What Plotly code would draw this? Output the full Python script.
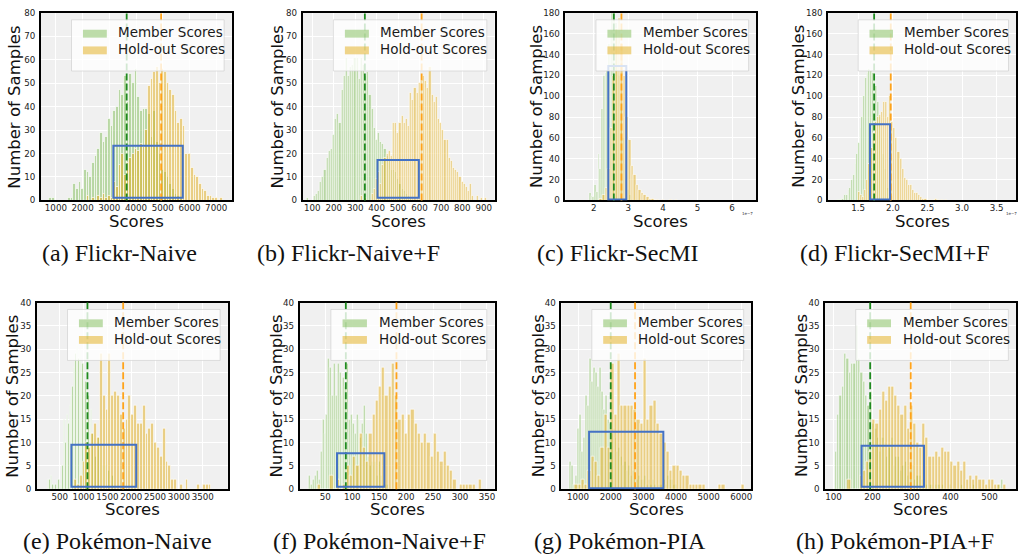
import plotly.graph_objects as go

FIG_W, FIG_H = 1018, 559

# ---------------- text ----------------
captions = ["(a) Flickr-Naive", "(b) Flickr-Naive+F", "(c) Flickr-SecMI", "(d) Flickr-SecMI+F",
            "(e) Pokémon-Naive", "(f) Pokémon-Naive+F", "(g) Pokémon-PIA", "(h) Pokémon-PIA+F"]
legend_labels = ["Member Scores", "Hold-out Scores"]
x_title = "Scores"
y_title = "Number of Samples"

# ---------------- data ----------------
# each histogram: (left edge of first bin, bin width) and the counts per bin
# (a) Flickr-Naive
a_member_bins = (750, 100)
a_member = [1, 1, 0, 0, 0, 0, 0, 1, 1, 7, 5, 8, 5, 13, 12, 10, 16, 19, 22, 29, 25, 27, 35, 32, 38, 40,
            47, 45, 53, 42, 54, 50, 56, 44, 38, 39, 39, 37, 27, 38, 25, 20, 13, 12, 10, 7, 5, 3, 2, 1]
a_holdout_bins = (1950, 100)
a_holdout = [0, 0, 2, 0, 1, 0, 2, 1, 3, 1, 2, 1, 8, 6, 15, 20, 11, 16, 18, 20, 22, 21, 24, 23, 30, 49,
             52, 55, 57, 50, 56, 55, 50, 47, 45, 38, 33, 35, 32, 20, 20, 14, 11, 10, 7, 5, 4, 2, 2, 1, 1, 0, 1]
a_means = (3650, 4940)
a_overlap = (3150, 5750, 1.2, 23.3)

# (b) Flickr-Naive+F
b_member_bins = (75, 10)
b_member = [1, 0, 0, 2, 3, 4, 8, 10, 13, 18, 21, 22, 28, 35, 37, 33, 47, 53, 61, 53, 57, 58, 61, 61, 52,
            61, 58, 53, 55, 45, 39, 31, 26, 29, 25, 24, 22, 19, 17, 13, 13, 12, 9, 7, 5, 4, 3, 2, 1]
b_holdout_bins = (325, 10)
b_holdout = [2, 0, 1, 0, 0, 3, 5, 9, 12, 7, 15, 18, 20, 21, 19, 33, 33, 29, 33, 36, 33, 35, 32, 46, 43,
             48, 46, 50, 51, 53, 51, 48, 57, 45, 42, 44, 35, 33, 30, 26, 26, 18, 17, 14, 13, 12, 10, 8, 7,
             6, 4, 7, 2, 0, 2, 0, 1, 0, 1]
b_means = (345, 610)
b_overlap = (404, 597, 1.1, 17.3)

# (c) Flickr-SecMI  (scores in units of 1e-7)
c_member_bins = (1.875, 0.05)
c_member = [7, 4, 3, 15, 8, 45, 30, 88, 120, 122, 125, 150, 165, 180, 180, 170, 150, 120, 90, 60, 35,
            20, 10, 5, 2, 1]
c_holdout_bins = (2.175, 0.075)
c_holdout = [2, 5, 12, 30, 70, 120, 165, 175, 150, 120, 80, 58, 33, 25, 15, 10, 7, 5, 3, 2, 2, 1, 1, 0,
             1, 0, 0, 1, 0, 1]
c_means = (2.58, 2.80)
c_overlap = (2.42, 2.94, 0.8, 129)

# (d) Flickr-SecMI+F  (scores in units of 1e-7)
d_member_bins = (1.2, 0.025)
d_member = [1, 1, 2, 2, 5, 5, 10, 12, 20, 25, 35, 45, 55, 70, 80, 100, 118, 122, 126, 124, 122, 118, 110,
            95, 80, 60, 45, 30, 20, 12, 8, 4, 2, 1, 1]
d_holdout_bins = (1.5, 0.03)
d_holdout = [8, 5, 3, 10, 20, 35, 50, 65, 75, 80, 82, 85, 95, 95, 80, 100, 75, 70, 60, 47, 40, 30, 22,
             20, 15, 15, 10, 7, 7, 5, 3, 2, 2, 0, 1, 0, 1, 2, 1, 0, 1, 0, 1]
d_means = (1.73, 1.97)
d_overlap = (1.67, 1.96, 1.0, 73)

# (e) Pokémon-Naive
e_member_bins = (255, 30)
e_member = [2, 2, 3, 1, 0, 1, 0, 2, 1, 1, 5, 15, 10, 16, 14, 18, 20, 22, 26, 29, 31, 28, 30, 24, 27, 21,
            23, 30, 20, 14, 17, 12, 11, 7, 10, 11, 7, 9, 5, 5, 5, 6, 4, 2, 3, 3, 2, 0, 1, 0, 0, 1, 0, 0,
            1, 0, 0, 0, 1]
e_holdout_bins = (800, 60)
e_holdout = [2, 1, 3, 6, 10, 9, 12, 14, 11, 29, 20, 17, 29, 20, 21, 20, 16, 13, 15, 20, 16, 18, 14, 14,
             18, 12, 13, 14, 10, 9, 7, 13, 6, 5, 2, 2, 0, 1, 0, 2, 0, 0, 0, 1, 0, 1, 1, 1]
e_means = (1082, 1831)
e_overlap = (745, 2105, 0.5, 9.5)

# (f) Pokémon-Naive+F
f_member_bins = (20, 3.5)
f_member = [3, 1, 2, 3, 4, 2, 8, 15, 12, 16, 28, 26, 20, 27, 20, 27, 25, 20, 24, 22, 27, 15, 16, 14, 12,
            16, 15, 11, 14, 18, 12, 7, 5, 6, 5, 6, 3, 6, 3, 1, 1, 1]
f_holdout_bins = (35, 6)
f_holdout = [1, 0, 0, 0, 3, 0, 2, 0, 1, 5, 3, 7, 5, 12, 9, 6, 12, 16, 19, 22, 26, 20, 22, 27, 20, 15, 16,
             12, 16, 17, 14, 12, 10, 12, 10, 7, 12, 8, 6, 8, 5, 4, 2, 0, 1, 1, 1, 1, 1, 0, 2]
f_means = (88, 182)
f_overlap = (71.6, 159.5, 0.5, 7.7)

# (g) Pokémon-PIA
g_member_bins = (750, 60)
g_member = [6, 5, 1, 3, 13, 16, 8, 11, 20, 18, 28, 23, 26, 25, 22, 26, 21, 17, 20, 15, 14, 12, 13, 11, 8,
            9, 7, 5, 6, 4, 5, 3, 4, 3, 2, 3, 2, 2, 3, 1, 2, 1, 2, 1, 0, 1, 1, 0, 2, 1, 3, 2, 2, 1, 1]
g_holdout_bins = (900, 100)
g_holdout = [1, 1, 2, 1, 4, 7, 6, 3, 9, 16, 9, 27, 16, 29, 18, 18, 18, 18, 17, 15, 14, 28, 15, 18, 19,
             14, 12, 10, 8, 4, 5, 5, 4, 3, 3, 1, 1, 1, 1, 1, 0, 0, 0, 0, 1, 1, 0, 0, 0, 0, 0, 1]
g_means = (2000, 2745)
g_overlap = (1337, 3612, 0.2, 12.3)

# (h) Pokémon-PIA+F
h_member_bins = (103, 6)
h_member = [8, 16, 20, 22, 29, 28, 25, 27, 27, 35, 28, 25, 23, 20, 18, 21, 14, 13, 11, 8, 11, 10, 7, 9,
            11, 5, 7, 7, 4, 5, 6, 3, 4, 5, 2, 3, 3, 2, 1, 1, 0, 1, 0, 1, 1, 0, 1, 0, 0, 1, 0, 0, 0, 0,
            1, 0, 0, 0, 0, 1, 0, 0, 0, 0, 0, 0, 0, 0, 0, 0, 1, 2]
h_holdout_bins = (136, 8)
h_holdout = [2, 0, 0, 0, 3, 4, 6, 8, 15, 14, 17, 21, 19, 22, 22, 20, 18, 16, 18, 13, 18, 14, 10, 9, 14,
             11, 7, 7, 8, 7, 9, 8, 8, 6, 5, 6, 4, 6, 2, 3, 2, 3, 2, 2, 1, 2, 2, 1, 1, 0, 1]
h_means = (194, 298)
h_overlap = (172, 332, 0.5, 9.3)

# tick values per panel
a_ticks = [1000, 2000, 3000, 4000, 5000, 6000, 7000]
b_ticks = [100, 200, 300, 400, 500, 600, 700, 800, 900]
c_ticks = [2, 3, 4, 5, 6]
d_ticks = [1.5, 2.0, 2.5, 3.0, 3.5]
e_ticks = [500, 1000, 1500, 2000, 2500, 3000, 3500]
f_ticks = [50, 100, 150, 200, 250, 300, 350]
g_ticks = [1000, 2000, 3000, 4000, 5000, 6000]
h_ticks = [100, 200, 300, 400, 500]
flickr_yticks = [0, 10, 20, 30, 40, 50, 60, 70, 80]
secmi_yticks = [0, 20, 40, 60, 80, 100, 120, 140, 160, 180]
pokemon_yticks = [0, 5, 10, 15, 20, 25, 30, 35, 40]

# ---------------- layout geometry (pixels) ----------------
panels = [
    dict(mem=a_member, memb=a_member_bins, hol=a_holdout, holb=a_holdout_bins, means=a_means, box=a_overlap,
         xt=a_ticks, yt=flickr_yticks, xr=[441, 7584], yr=[0, 80], fmt="", px=(41, 232, 8, 199), ytx=15),
    dict(mem=b_member, memb=b_member_bins, hol=b_holdout, holb=b_holdout_bins, means=b_means, box=b_overlap,
         xt=b_ticks, yt=flickr_yticks, xr=[55, 950], yr=[0, 80], fmt="", px=(303, 495, 8, 199), ytx=278),
    dict(mem=c_member, memb=c_member_bins, hol=c_holdout, holb=c_holdout_bins, means=c_means, box=c_overlap,
         xt=c_ticks, yt=secmi_yticks, xr=[1.18, 6.70], yr=[0, 180], fmt="", px=(566, 757, 8, 199), ytx=537),
    dict(mem=d_member, memb=d_member_bins, hol=d_holdout, holb=d_holdout_bins, means=d_means, box=d_overlap,
         xt=d_ticks, yt=secmi_yticks, xr=[1.066, 3.78], yr=[0, 180], fmt=".1f", px=(829, 1017, 8, 199), ytx=799),
    dict(mem=e_member, memb=e_member_bins, hol=e_holdout, holb=e_holdout_bins, means=e_means, box=e_overlap,
         xt=e_ticks, yt=pokemon_yticks, xr=[23, 4025], yr=[0, 40], fmt="", px=(37, 228, 303, 493), ytx=13),
    dict(mem=f_member, memb=f_member_bins, hol=f_holdout, holb=f_holdout_bins, means=f_means, box=f_overlap,
         xt=f_ticks, yt=pokemon_yticks, xr=[2.4, 364], yr=[0, 40], fmt="", px=(300, 495, 303, 493), ytx=277),
    dict(mem=g_member, memb=g_member_bins, hol=g_holdout, holb=g_holdout_bins, means=g_means, box=g_overlap,
         xt=g_ticks, yt=pokemon_yticks, xr=[490, 6306], yr=[0, 40], fmt="", px=(562, 752, 303, 493), ytx=539),
    dict(mem=h_member, memb=h_member_bins, hol=h_holdout, holb=h_holdout_bins, means=h_means, box=h_overlap,
         xt=h_ticks, yt=pokemon_yticks, xr=[78.6, 568], yr=[0, 40], fmt="", px=(826, 1017, 303, 493), ytx=803),
]
caption_pos = [(120, 253), (349, 253), (618, 253), (896, 253),
               (118, 546), (380, 546), (621, 546), (896, 546)]

MEMBER_FILL = "rgba(125,188,85,0.5)"
HOLDOUT_FILL = "rgba(226,172,22,0.5)"
EDGE = "rgba(255,255,255,0.8)"
MEAN_COLORS = ("#1f8a1f", "#ffa31a")
BOX_COLOR = "#4472c4"
TICK_FONT = dict(family="DejaVu Sans", size=8.7, color="#222222")
TITLE_FONT = dict(family="DejaVu Sans", size=16.5, color="#111111")
LEG_FONT = dict(family="DejaVu Sans", size=13.5, color="#1a1a1a")
CAP_FONT = dict(family="Liberation Serif", size=24, color="#111111")


def centers(bins, counts):
    start, width = bins
    return [start + width * (i + 0.5) for i in range(len(counts))], width


fig = go.Figure()
shapes = []
annotations = []
layout = {}

for i, p in enumerate(panels):
    k = "" if i == 0 else str(i + 1)
    xa, ya = "x" + k, "y" + k
    for counts, bins, fill in ((p["mem"], p["memb"], MEMBER_FILL), (p["hol"], p["holb"], HOLDOUT_FILL)):
        xs, w = centers(bins, counts)
        fig.add_trace(go.Bar(x=xs, y=counts, width=w, xaxis=xa, yaxis=ya, showlegend=False,
                             marker=dict(color=fill, line=dict(color=EDGE, width=0.8)),
                             hoverinfo="x+y"))
    x0, x1, y0, y1 = p["px"]
    layout["xaxis" + k] = dict(domain=[x0 / FIG_W, x1 / FIG_W], anchor=ya, range=p["xr"],
                               tickvals=p["xt"], tickformat=p["fmt"], tickfont=TICK_FONT, tickangle=0,
                               showgrid=True, gridcolor="white", gridwidth=1, zeroline=False,
                               showline=True, linecolor="black", linewidth=1.8, mirror=True,
                               ticks="", ticklabelstandoff=-2)
    layout["yaxis" + k] = dict(domain=[1 - y1 / FIG_H, 1 - y0 / FIG_H], anchor=xa, range=p["yr"],
                               tickvals=p["yt"], tickfont=TICK_FONT,
                               showgrid=True, gridcolor="white", gridwidth=1, zeroline=False,
                               showline=True, linecolor="black", linewidth=1.8, mirror=True,
                               ticks="", ticklabelstandoff=2)
    xd, yd = xa + " domain", ya + " domain"
    # mean lines
    for m, col in zip(p["means"], MEAN_COLORS):
        shapes.append(dict(type="line", xref=xa, yref=yd, x0=m, x1=m, y0=0, y1=1,
                           line=dict(color=col, width=1.8, dash="7px,3px"), layer="above"))
    # overlap rectangle
    bx0, bx1, by0, by1 = p["box"]
    shapes.append(dict(type="rect", xref=xa, yref=ya, x0=bx0, x1=bx1, y0=by0, y1=by1,
                       line=dict(color=BOX_COLOR, width=2), fillcolor="rgba(0,0,0,0)", layer="above"))
    # legend
    shapes.append(dict(type="rect", xref=xd, yref=yd, x0=0.16, x1=0.96, y0=0.69, y1=0.963,
                       line=dict(color="rgba(204,204,204,0.8)", width=0.8),
                       fillcolor="rgba(255,255,255,0.8)", layer="above"))
    shapes.append(dict(type="rect", xref=xd, yref=yd, x0=0.22, x1=0.345, y0=0.868, y1=0.91,
                       line=dict(width=0), fillcolor=MEMBER_FILL, layer="above"))
    shapes.append(dict(type="rect", xref=xd, yref=yd, x0=0.22, x1=0.345, y0=0.779, y1=0.821,
                       line=dict(width=0), fillcolor=HOLDOUT_FILL, layer="above"))
    for lab, yy in zip(legend_labels, (0.896, 0.807)):
        annotations.append(dict(text=lab, xref=xd, yref=yd, x=0.395, y=yy, xanchor="left",
                                yanchor="middle", showarrow=False, font=LEG_FONT))
    # axis titles
    annotations.append(dict(text=x_title, xref="paper", yref="paper", x=(x0 + x1) / 2 / FIG_W,
                            y=1 - (y1 + 21) / FIG_H, xanchor="center", yanchor="middle",
                            showarrow=False, font=TITLE_FONT))
    annotations.append(dict(text=y_title, xref="paper", yref="paper", x=p["ytx"] / FIG_W,
                            y=1 - (y0 + y1) / 2 / FIG_H, xanchor="center", yanchor="middle",
                            textangle=-90, showarrow=False, font=TITLE_FONT))
    # caption
    cx, cy = caption_pos[i]
    annotations.append(dict(text=captions[i], xref="paper", yref="paper", x=cx / FIG_W, y=1 - cy / FIG_H,
                            xanchor="center", yanchor="middle", showarrow=False, font=CAP_FONT))

# scale offset labels for the SecMI panels
for xpx in (748, 1012):
    annotations.append(dict(text="1e−7", xref="paper", yref="paper", x=xpx / FIG_W, y=1 - 212 / FIG_H,
                            xanchor="center", yanchor="middle", showarrow=False,
                            font=dict(family="DejaVu Sans", size=4, color="#333")))

fig.update_layout(width=FIG_W, height=FIG_H, margin=dict(l=0, r=0, t=0, b=0),
                  paper_bgcolor="white", plot_bgcolor="#f0f0f0", barmode="overlay",
                  bargap=0, shapes=shapes, annotations=annotations, **layout)

fig.write_html("out.html")
